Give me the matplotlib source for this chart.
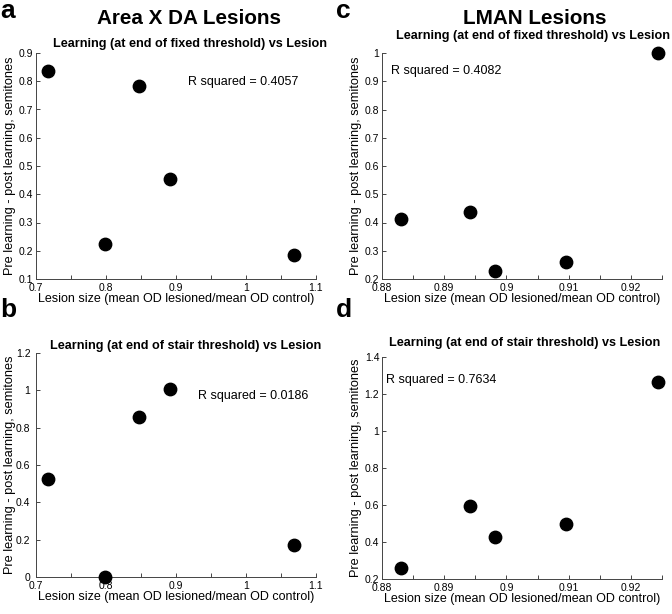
import matplotlib
matplotlib.use("Agg")
import matplotlib.pyplot as plt
from matplotlib.ticker import MultipleLocator, FuncFormatter

plt.rcParams['font.family'] = ['Liberation Sans', 'DejaVu Sans']

# Area X DA lesions
areax_size = [0.7176, 0.7986, 0.8467, 0.8914, 1.068]
areax_fixed = [0.837, 0.224, 0.784, 0.4545, 0.184]
areax_stair = [0.527, 0.0, 0.855, 1.007, 0.171]

# LMAN lesions
lman_size = [0.883, 0.8942, 0.8982, 0.9095, 0.9243]
lman_fixed = [0.413, 0.4375, 0.2296, 0.2603, 1.0]
lman_stair = [0.2575, 0.592, 0.426, 0.495, 1.266]

r2 = {'a': '0.4057', 'b': '0.0186', 'c': '0.4082', 'd': '0.7634'}

W, H = 672, 614
fig = plt.figure(figsize=(W / 100, H / 100), dpi=100)


def px_axes(left, top, right, bottom):
    return fig.add_axes([left / W, 1 - bottom / H, (right - left) / W, (bottom - top) / H])


def px_text(x, y, s, **kw):
    return fig.text(x / W, 1 - y / H, s, **kw)


fmt = FuncFormatter(lambda v, p: f"{v:g}")


def style(ax, x, y, xlim, ylim, xmaj, xmin, ymaj, rtxt, rpos):
    ax.scatter(x, y, s=80, color='black', zorder=3, clip_on=False)
    ax.set_xlim(*xlim)
    ax.set_ylim(*ylim)
    ax.xaxis.set_major_locator(MultipleLocator(xmaj))
    ax.xaxis.set_minor_locator(MultipleLocator(xmin))
    ax.yaxis.set_major_locator(MultipleLocator(ymaj))
    ax.xaxis.set_major_formatter(fmt)
    ax.yaxis.set_major_formatter(fmt)
    for s in ['top', 'right']:
        ax.spines[s].set_visible(False)
    for s in ['left', 'bottom']:
        ax.spines[s].set_color('#444444')
        ax.spines[s].set_linewidth(0.7)
    ax.tick_params(which='both', direction='in', length=3, width=0.7, color='#444444',
                   labelsize=7.5, pad=2)
    ax.tick_params(axis='x', pad=3)
    ax.set_xlabel("Lesion size (mean OD lesioned/mean OD control)", fontsize=9, labelpad=0)
    ax.set_ylabel("Pre learning - post learning, semitones", fontsize=9.2, labelpad=2)
    ax.text(rpos[0], rpos[1], "R squared = " + rtxt, fontsize=9, va='center', ha='left')


ax_a = px_axes(36, 53, 316, 279)
style(ax_a, areax_size, areax_fixed, (0.7, 1.1), (0.1, 0.9), 0.1, 0.05, 0.1,
      r2['a'], (0.9176, 0.796))

ax_b = px_axes(36, 353, 316, 577)
style(ax_b, areax_size, areax_stair, (0.7, 1.1), (0.0, 1.2), 0.1, 0.05, 0.2,
      r2['b'], (0.932, 0.971))
ax_b.tick_params(axis='y', pad=4)
ax_b.set_ylabel("Pre learning - post learning, semitones", fontsize=9.2, labelpad=0)

ax_c = px_axes(382, 53, 662, 279)
style(ax_c, lman_size, lman_fixed, (0.88, 0.925), (0.2, 1.0), 0.01, 0.005, 0.1,
      r2['c'], (0.8814, 0.935))

ax_d = px_axes(382, 357, 662, 579)
style(ax_d, lman_size, lman_stair, (0.88, 0.925), (0.2, 1.4), 0.01, 0.005, 0.2,
      r2['d'], (0.8807, 1.278))

sub_fixed = "Learning (at end of fixed threshold) vs Lesion"
sub_stair = "Learning (at end of stair threshold) vs Lesion"
px_text(53, 44, sub_fixed, fontsize=9.1, fontweight='bold', ha='left', va='center')
px_text(50, 346, sub_stair, fontsize=9.1, fontweight='bold', ha='left', va='center')
px_text(396, 36, sub_fixed, fontsize=9.1, fontweight='bold', ha='left', va='center')
px_text(389, 343, sub_stair, fontsize=9.1, fontweight='bold', ha='left', va='center')

px_text(189, 18, "Area X DA Lesions", fontsize=14.9, fontweight='bold', ha='center', va='center')
px_text(535, 18, "LMAN Lesions", fontsize=14.9, fontweight='bold', ha='center', va='center')

for letter, (xp, yp) in {'a': (0, -1), 'c': (336, -1), 'b': (0, 298), 'd': (336, 298)}.items():
    px_text(xp, yp, letter, fontsize=19, fontweight='bold', ha='left', va='top')

fig.savefig("out.png", dpi=100)
